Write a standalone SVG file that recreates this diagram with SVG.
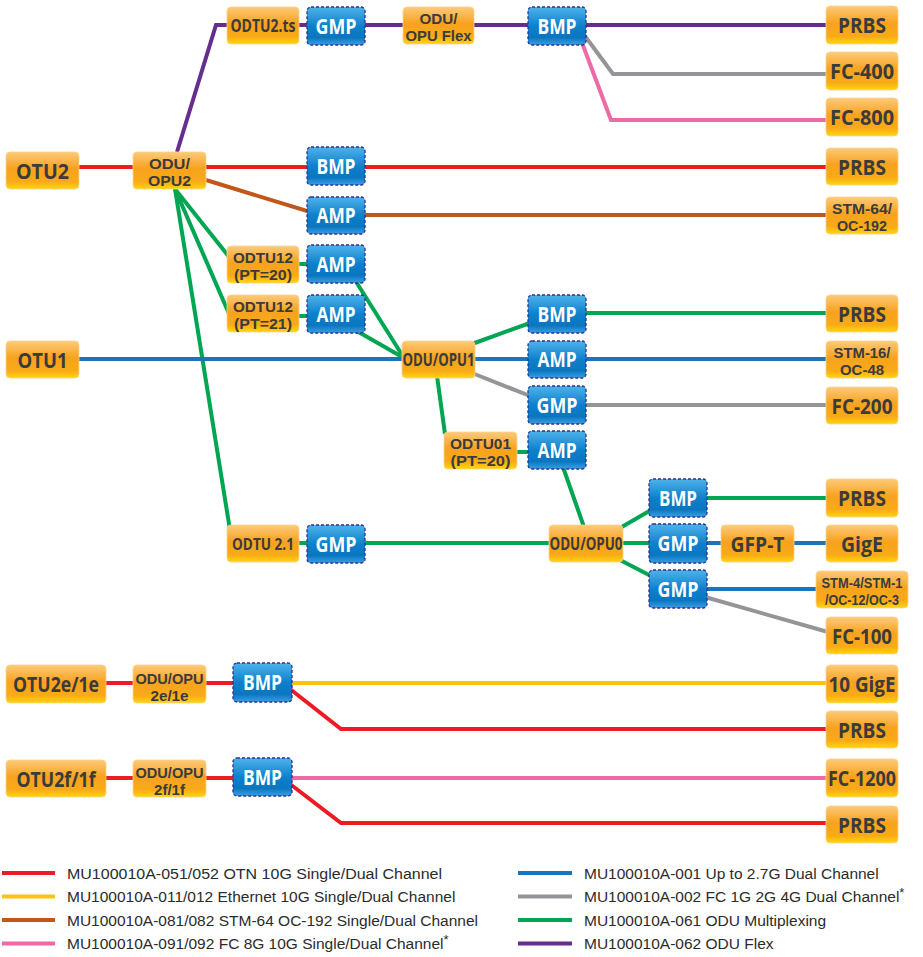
<svg xmlns="http://www.w3.org/2000/svg" width="923" height="957" viewBox="0 0 923 957">
<defs>
<linearGradient id="og" x1="0" y1="0" x2="0" y2="1">
<stop offset="0" stop-color="#fdca7a"/>
<stop offset="0.45" stop-color="#f8a21e"/>
<stop offset="0.8" stop-color="#f9aa18"/>
<stop offset="1" stop-color="#ffd60a"/>
</linearGradient>
<linearGradient id="bg" x1="0" y1="0" x2="0" y2="1">
<stop offset="0" stop-color="#4fb3ea"/>
<stop offset="0.5" stop-color="#0d80cc"/>
<stop offset="0.8" stop-color="#0a76c0"/>
<stop offset="1" stop-color="#3a9fe2"/>
</linearGradient>
</defs>
<style>
.o rect{fill:url(#og);stroke:#fcd48a;stroke-width:0.8}
.b rect{fill:url(#bg);stroke:#2e3192;stroke-width:1.3;stroke-dasharray:3 2}
.o text{font-family:"Open Sans","Liberation Sans",sans-serif;font-weight:700;fill:#3b3b3b;text-anchor:middle}
.o text.two{font-family:"Liberation Sans",Arial,sans-serif;font-size:15px}
.b text{font-family:"Open Sans","Liberation Sans",sans-serif;font-weight:700;fill:#ffffff;text-anchor:middle;font-size:21px}
.l22{font-size:22px}
.l17{font-size:17px}
.l16{font-size:16px}
#connectors path,#connectors line,#legend line{fill:none;stroke-width:4;stroke-linejoin:miter}
.red{stroke:#ed1c24}.yel{stroke:#ffc20e}.brn{stroke:#c2571b}.pnk{stroke:#ee6aa6}
.blu{stroke:#1b75bc}.gry{stroke:#939598}.grn{stroke:#00a651}.pur{stroke:#662d91}
#legend text{font-family:"Liberation Sans",Arial,sans-serif;font-size:15.5px;fill:#2b2b2b}
</style>

<g id="connectors">
<path class="pur" d="M177,152 L216,25 L826,25"/>
<path class="gry" d="M582,32 L613,74 L826,74"/>
<path class="pnk" d="M581,40 L611,120 L826,120"/>
<line class="red" x1="79" y1="167" x2="826" y2="167"/>
<path class="brn" d="M206,180 L320,215 L826,215"/>
<path class="grn" d="M175,189 L230,258"/>
<path class="grn" d="M175,189 L230,316"/>
<path class="grn" d="M175,189 L230,530"/>
<line class="grn" x1="299" y1="264" x2="307" y2="264"/>
<line class="grn" x1="299" y1="316" x2="307" y2="316"/>
<path class="grn" d="M355,280 L404,358"/>
<path class="grn" d="M355,330 L404,358"/>
<path class="grn" d="M472,344 L530,323"/>
<line class="grn" x1="586" y1="313" x2="826" y2="313"/>
<line class="blu" x1="79" y1="359" x2="826" y2="359"/>
<path class="gry" d="M472,373 L530,396"/>
<line class="gry" x1="586" y1="405" x2="826" y2="405"/>
<path class="grn" d="M437,376 L445,434"/>
<line class="grn" x1="517" y1="452" x2="528" y2="452"/>
<path class="grn" d="M563,467 L584,527"/>
<line class="grn" x1="299" y1="543" x2="549" y2="543"/>
<path class="grn" d="M620,528 L651,510"/>
<line class="grn" x1="707" y1="498" x2="826" y2="498"/>
<line class="grn" x1="623" y1="543" x2="649" y2="543"/>
<path class="grn" d="M620,560 L651,576"/>
<line class="blu" x1="707" y1="543" x2="826" y2="543"/>
<line class="blu" x1="707" y1="589" x2="816" y2="589"/>
<path class="gry" d="M705,597 L828,632"/>
<line class="red" x1="106" y1="683" x2="233" y2="683"/>
<line class="yel" x1="292" y1="683" x2="826" y2="683"/>
<path class="red" d="M290,689 L341,729 L826,729"/>
<line class="red" x1="106" y1="778" x2="233" y2="778"/>
<line class="pnk" x1="292" y1="778" x2="826" y2="778"/>
<path class="red" d="M290,784 L341,823 L826,823"/>
</g>

<g id="otu2" class="o"><rect x="6" y="152" width="73" height="37" rx="4"/><text class="l22" x="42.5" y="178.5" textLength="53" lengthAdjust="spacingAndGlyphs">OTU2</text></g>
<g id="odu2" class="o"><rect x="133" y="152" width="73" height="37" rx="4"/><text class="two"><tspan x="169.5" y="168.5" textLength="41" lengthAdjust="spacingAndGlyphs">ODU/</tspan><tspan x="169.5" y="185.5" textLength="43" lengthAdjust="spacingAndGlyphs">OPU2</tspan></text></g>
<g id="odtu2ts" class="o"><rect x="227" y="7" width="72" height="37" rx="4"/><text class="l17" x="263" y="32" textLength="65" lengthAdjust="spacingAndGlyphs">ODTU2.ts</text></g>
<g id="oduflex" class="o"><rect x="403" y="7" width="71" height="37" rx="4"/><text class="two"><tspan x="438.5" y="23.5" textLength="38" lengthAdjust="spacingAndGlyphs">ODU/</tspan><tspan x="438.5" y="40.5" textLength="66" lengthAdjust="spacingAndGlyphs">OPU Flex</tspan></text></g>
<g id="prbs1" class="o"><rect x="826" y="6" width="72" height="38" rx="4"/><text class="l22" x="862" y="33" textLength="48" lengthAdjust="spacingAndGlyphs">PRBS</text></g>
<g id="fc400" class="o"><rect x="826" y="52" width="72" height="38" rx="4"/><text class="l22" x="862" y="79" textLength="64" lengthAdjust="spacingAndGlyphs">FC-400</text></g>
<g id="fc800" class="o"><rect x="826" y="98" width="72" height="38" rx="4"/><text class="l22" x="862" y="125" textLength="64" lengthAdjust="spacingAndGlyphs">FC-800</text></g>
<g id="prbs2" class="o"><rect x="826" y="148" width="72" height="37" rx="4"/><text class="l22" x="862" y="174.5" textLength="48" lengthAdjust="spacingAndGlyphs">PRBS</text></g>
<g id="stm64" class="o"><rect x="826" y="197" width="72" height="37" rx="4"/><text class="two"><tspan x="862" y="213.5" textLength="60" lengthAdjust="spacingAndGlyphs">STM-64/</tspan><tspan x="862" y="230.5" textLength="50" lengthAdjust="spacingAndGlyphs">OC-192</tspan></text></g>
<g id="odtu12a" class="o"><rect x="227" y="246" width="72" height="37" rx="4"/><text class="two"><tspan x="263" y="262.5" textLength="60" lengthAdjust="spacingAndGlyphs">ODTU12</tspan><tspan x="263" y="279.5" textLength="58" lengthAdjust="spacingAndGlyphs">(PT=20)</tspan></text></g>
<g id="odtu12b" class="o"><rect x="227" y="295" width="72" height="37" rx="4"/><text class="two"><tspan x="263" y="311.5" textLength="60" lengthAdjust="spacingAndGlyphs">ODTU12</tspan><tspan x="263" y="328.5" textLength="58" lengthAdjust="spacingAndGlyphs">(PT=21)</tspan></text></g>
<g id="otu1" class="o"><rect x="6" y="341" width="73" height="37" rx="4"/><text class="l22" x="42.5" y="367.5" textLength="50" lengthAdjust="spacingAndGlyphs">OTU1</text></g>
<g id="odu1" class="o"><rect x="402" y="341" width="73" height="37" rx="4"/><text class="l17" x="438.5" y="365.5" textLength="72" lengthAdjust="spacingAndGlyphs">ODU/OPU1</text></g>
<g id="prbs3" class="o"><rect x="826" y="295" width="72" height="37" rx="4"/><text class="l22" x="862" y="321.5" textLength="48" lengthAdjust="spacingAndGlyphs">PRBS</text></g>
<g id="stm16" class="o"><rect x="826" y="341" width="72" height="37" rx="4"/><text class="two"><tspan x="862" y="357.5" textLength="57" lengthAdjust="spacingAndGlyphs">STM-16/</tspan><tspan x="862" y="374.5" textLength="44" lengthAdjust="spacingAndGlyphs">OC-48</tspan></text></g>
<g id="fc200" class="o"><rect x="826" y="387" width="72" height="37" rx="4"/><text class="l22" x="862" y="414" textLength="61" lengthAdjust="spacingAndGlyphs">FC-200</text></g>
<g id="odtu01" class="o"><rect x="444" y="432" width="73" height="37" rx="4"/><text class="two"><tspan x="480.5" y="448.5" textLength="61" lengthAdjust="spacingAndGlyphs">ODTU01</tspan><tspan x="480.5" y="465.5" textLength="60" lengthAdjust="spacingAndGlyphs">(PT=20)</tspan></text></g>
<g id="odtu21" class="o"><rect x="227" y="525" width="72" height="37" rx="4"/><text class="l16" x="263" y="549.5" textLength="62" lengthAdjust="spacingAndGlyphs">ODTU 2.1</text></g>
<g id="odu0" class="o"><rect x="549" y="525" width="74" height="37" rx="4"/><text class="l17" x="586" y="549.5" textLength="73" lengthAdjust="spacingAndGlyphs">ODU/OPU0</text></g>
<g id="gfpt" class="o"><rect x="721" y="525" width="73" height="37" rx="4"/><text class="l22" x="757.5" y="551.5" textLength="54" lengthAdjust="spacingAndGlyphs">GFP-T</text></g>
<g id="prbs4" class="o"><rect x="826" y="479" width="72" height="38" rx="4"/><text class="l22" x="862" y="506" textLength="48" lengthAdjust="spacingAndGlyphs">PRBS</text></g>
<g id="gige" class="o"><rect x="826" y="525" width="72" height="37" rx="4"/><text class="l22" x="862" y="551.5" textLength="42" lengthAdjust="spacingAndGlyphs">GigE</text></g>
<g id="stm4" class="o"><rect x="816" y="571" width="92" height="37" rx="4"/><text class="two"><tspan x="862" y="587.5" textLength="81" lengthAdjust="spacingAndGlyphs">STM-4/STM-1</tspan><tspan x="862" y="604.5" textLength="74" lengthAdjust="spacingAndGlyphs">/OC-12/OC-3</tspan></text></g>
<g id="fc100" class="o"><rect x="826" y="617" width="72" height="37" rx="4"/><text class="l22" x="862" y="644" textLength="60" lengthAdjust="spacingAndGlyphs">FC-100</text></g>
<g id="otu2e" class="o"><rect x="6" y="665" width="100" height="38" rx="4"/><text class="l22" x="56" y="692" textLength="86" lengthAdjust="spacingAndGlyphs">OTU2e/1e</text></g>
<g id="odu2e" class="o"><rect x="133" y="665" width="73" height="38" rx="4"/><text class="two"><tspan x="169.5" y="683.5" textLength="68" lengthAdjust="spacingAndGlyphs">ODU/OPU</tspan><tspan x="169.5" y="700.5" textLength="38" lengthAdjust="spacingAndGlyphs">2e/1e</tspan></text></g>
<g id="gige10" class="o"><rect x="826" y="665" width="72" height="38" rx="4"/><text class="l22" x="862" y="692" textLength="67" lengthAdjust="spacingAndGlyphs">10 GigE</text></g>
<g id="prbs5" class="o"><rect x="826" y="711" width="72" height="37" rx="4"/><text class="l22" x="862" y="737.5" textLength="48" lengthAdjust="spacingAndGlyphs">PRBS</text></g>
<g id="otu2f" class="o"><rect x="6" y="760" width="100" height="37" rx="4"/><text class="l22" x="56" y="786.5" textLength="79" lengthAdjust="spacingAndGlyphs">OTU2f/1f</text></g>
<g id="odu2f" class="o"><rect x="133" y="760" width="73" height="37" rx="4"/><text class="two"><tspan x="169.5" y="777.5" textLength="68" lengthAdjust="spacingAndGlyphs">ODU/OPU</tspan><tspan x="169.5" y="794.5" textLength="31" lengthAdjust="spacingAndGlyphs">2f/1f</tspan></text></g>
<g id="fc1200" class="o"><rect x="826" y="759" width="72" height="38" rx="4"/><text class="l22" x="862" y="786" textLength="68" lengthAdjust="spacingAndGlyphs">FC-1200</text></g>
<g id="prbs6" class="o"><rect x="826" y="806" width="72" height="37" rx="4"/><text class="l22" x="862" y="832.5" textLength="48" lengthAdjust="spacingAndGlyphs">PRBS</text></g>

<g id="gmp1" class="b"><rect x="307" y="7" width="58" height="38" rx="4"/><text x="336" y="33.5" textLength="41" lengthAdjust="spacingAndGlyphs">GMP</text></g>
<g id="bmp1" class="b"><rect x="528" y="7" width="58" height="38" rx="4"/><text x="557" y="33.5" textLength="39" lengthAdjust="spacingAndGlyphs">BMP</text></g>
<g id="bmp2" class="b"><rect x="307" y="147" width="58" height="38" rx="4"/><text x="336" y="173.5" textLength="39" lengthAdjust="spacingAndGlyphs">BMP</text></g>
<g id="amp1" class="b"><rect x="307" y="197" width="58" height="37" rx="4"/><text x="336" y="223" textLength="39" lengthAdjust="spacingAndGlyphs">AMP</text></g>
<g id="amp2" class="b"><rect x="307" y="245" width="58" height="38" rx="4"/><text x="336" y="271.5" textLength="39" lengthAdjust="spacingAndGlyphs">AMP</text></g>
<g id="amp3" class="b"><rect x="307" y="295" width="58" height="38" rx="4"/><text x="336" y="321.5" textLength="39" lengthAdjust="spacingAndGlyphs">AMP</text></g>
<g id="gmp2" class="b"><rect x="307" y="525" width="58" height="38" rx="4"/><text x="336" y="551.5" textLength="41" lengthAdjust="spacingAndGlyphs">GMP</text></g>
<g id="bmp3" class="b"><rect x="528" y="295" width="58" height="38" rx="4"/><text x="557" y="321.5" textLength="39" lengthAdjust="spacingAndGlyphs">BMP</text></g>
<g id="amp4" class="b"><rect x="528" y="341" width="58" height="37" rx="4"/><text x="557" y="367" textLength="39" lengthAdjust="spacingAndGlyphs">AMP</text></g>
<g id="gmp3" class="b"><rect x="528" y="386" width="58" height="38" rx="4"/><text x="557" y="412.5" textLength="41" lengthAdjust="spacingAndGlyphs">GMP</text></g>
<g id="amp5" class="b"><rect x="528" y="431" width="58" height="38" rx="4"/><text x="557" y="457.5" textLength="39" lengthAdjust="spacingAndGlyphs">AMP</text></g>
<g id="bmp4" class="b"><rect x="649" y="479" width="58" height="38" rx="4"/><text x="678" y="505.5" textLength="38" lengthAdjust="spacingAndGlyphs">BMP</text></g>
<g id="gmp4" class="b"><rect x="649" y="524" width="58" height="39" rx="4"/><text x="678" y="551" textLength="41" lengthAdjust="spacingAndGlyphs">GMP</text></g>
<g id="gmp5" class="b"><rect x="649" y="570" width="58" height="38" rx="4"/><text x="678" y="596.5" textLength="41" lengthAdjust="spacingAndGlyphs">GMP</text></g>
<g id="bmp5" class="b"><rect x="233" y="663" width="59" height="39" rx="4"/><text x="262.5" y="690" textLength="39" lengthAdjust="spacingAndGlyphs">BMP</text></g>
<g id="bmp6" class="b"><rect x="233" y="758" width="59" height="38" rx="4"/><text x="262.5" y="784.5" textLength="39" lengthAdjust="spacingAndGlyphs">BMP</text></g>

<g id="legend">
<line class="red" x1="2" y1="873" x2="55" y2="873"/>
<text x="67" y="878.5" textLength="375" lengthAdjust="spacingAndGlyphs">MU100010A-051/052 OTN 10G Single/Dual Channel</text>
<line class="yel" x1="2" y1="896.5" x2="55" y2="896.5"/>
<text x="67" y="902">MU100010A-011/012 Ethernet 10G Single/Dual Channel</text>
<line class="brn" x1="2" y1="920" x2="55" y2="920"/>
<text x="67" y="925.5">MU100010A-081/082 STM-64 OC-192 Single/Dual Channel</text>
<line class="pnk" x1="2" y1="943.5" x2="55" y2="943.5"/>
<text x="67" y="949">MU100010A-091/092 FC 8G 10G Single/Dual Channel<tspan dy="-5" font-size="13">*</tspan></text>
<line class="blu" x1="518" y1="873" x2="572" y2="873"/>
<text x="584" y="878.5">MU100010A-001 Up to 2.7G Dual Channel</text>
<line class="gry" x1="518" y1="896.5" x2="572" y2="896.5"/>
<text x="584" y="902">MU100010A-002 FC 1G 2G 4G Dual Channel<tspan dy="-5" font-size="13">*</tspan></text>
<line class="grn" x1="518" y1="920" x2="572" y2="920"/>
<text x="584" y="925.5">MU100010A-061 ODU Multiplexing</text>
<line class="pur" x1="518" y1="943.5" x2="572" y2="943.5"/>
<text x="584" y="949">MU100010A-062 ODU Flex</text>
</g>
</svg>
